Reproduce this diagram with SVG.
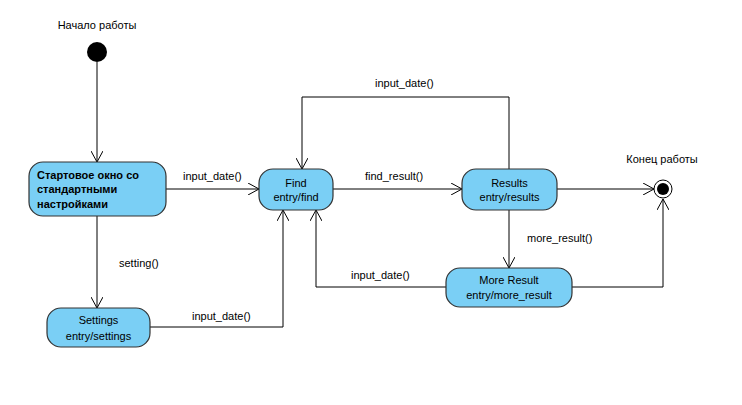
<svg xmlns="http://www.w3.org/2000/svg" width="742" height="405" viewBox="0 0 742 405">
  <style>
    text { font-family: "Liberation Sans", Arial, sans-serif; font-size: 11px; fill: #000; }
    .state { fill: #7ACFF5; stroke: #333; stroke-width: 1.2; }
    .c { text-anchor: middle; }
    .b { font-weight: bold; }
    .edge { fill: none; stroke: #000; stroke-width: 1; marker-end: url(#open); }
  </style>
  <defs>
    <marker id="open" viewBox="0 0 12 12" refX="11" refY="6" markerWidth="12" markerHeight="12" markerUnits="userSpaceOnUse" orient="auto">
      <path d="M0,0 L11,6 L0,12" fill="none" stroke="#000" stroke-width="1"/>
    </marker>
  </defs>

  <rect width="742" height="405" fill="#fff"/>

  <!-- connectors -->
  <g id="connectors">
    <path class="edge" d="M97,62 V162"/>
    <path class="edge" d="M166,189 H259"/>
    <path class="edge" d="M97,216 V308"/>
    <path class="edge" d="M150,327 H283 V210"/>
    <path class="edge" d="M333,189 H462"/>
    <path class="edge" d="M509,169 V97 H302 V169"/>
    <path class="edge" d="M557,189 H654"/>
    <path class="edge" d="M509,210 V268"/>
    <path class="edge" d="M446,287 H316 V210"/>
    <path class="edge" d="M572,287 H663 V199"/>
    <text x="183" y="180">input_date()</text>
    <text x="119" y="267">setting()</text>
    <text x="192" y="320">input_date()</text>
    <text x="365" y="180">find_result()</text>
    <text x="375" y="87">input_date()</text>
    <text x="527" y="242">more_result()</text>
    <text x="351" y="279">input_date()</text>
  </g>

  <g id="start">
    <text class="c" x="97" y="29">Начало работы</text>
    <circle cx="97" cy="52" r="10" fill="#000"/>
  </g>

  <g id="initial">
    <rect class="state" x="29" y="162" width="137" height="54" rx="14"/>
    <text class="b" x="37" y="179">Стартовое окно со</text>
    <text class="b" x="37" y="193">стандартными</text>
    <text class="b" x="37" y="208">настройками</text>
  </g>

  <g id="settings">
    <rect class="state" x="47" y="308" width="103" height="39" rx="14"/>
    <text class="c" x="98.5" y="324">Settings</text>
    <text class="c" x="98.5" y="340">entry/settings</text>
  </g>

  <g id="find">
    <rect class="state" x="259" y="169" width="74" height="41" rx="14"/>
    <text class="c" x="296" y="187">Find</text>
    <text class="c" x="296" y="201">entry/find</text>
  </g>

  <g id="results">
    <rect class="state" x="462" y="169" width="95" height="41" rx="14"/>
    <text class="c" x="509.5" y="187">Results</text>
    <text class="c" x="509.5" y="201">entry/results</text>
  </g>

  <g id="more">
    <rect class="state" x="446" y="268" width="126" height="39" rx="14"/>
    <text class="c" x="509" y="284">More Result</text>
    <text class="c" x="509" y="299">entry/more_result</text>
  </g>

  <g id="end">
    <text class="c" x="662" y="163">Конец работы</text>
    <circle cx="663" cy="189" r="9" fill="#fff" stroke="#000" stroke-width="1"/>
    <circle cx="663" cy="189" r="6" fill="#000"/>
  </g>
</svg>
